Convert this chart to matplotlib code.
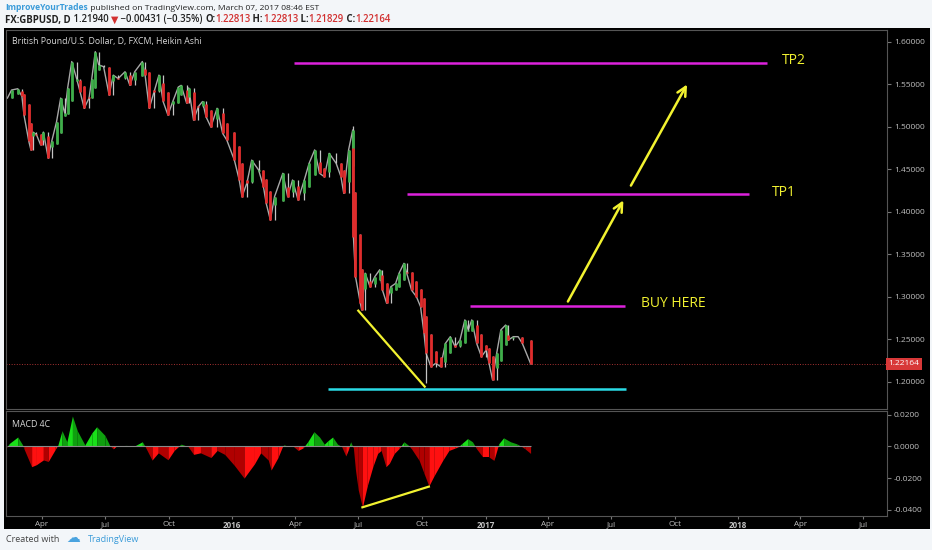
import matplotlib.pyplot as plt
import matplotlib.dates as mdates
import numpy as np
import pandas as pd
from matplotlib.patches import Rectangle

plt.rcParams['font.family'] = ['Open Sans', 'DejaVu Sans']
plt.rcParams['axes.unicode_minus'] = False

# GBPUSD daily, Heikin Ashi - closes
price_dates = [
    '2015-02-10', '2015-02-16', '2015-02-25', '2015-03-03', '2015-03-06', '2015-03-13', '2015-03-16',
    '2015-03-19', '2015-03-24', '2015-03-30', '2015-04-03', '2015-04-10', '2015-04-15', '2015-04-22',
    '2015-04-28', '2015-05-04', '2015-05-08', '2015-05-14', '2015-05-21', '2015-05-26', '2015-06-01',
    '2015-06-08', '2015-06-12', '2015-06-17', '2015-06-22', '2015-06-29', '2015-07-07', '2015-07-13',
    '2015-07-20', '2015-07-30', '2015-08-06', '2015-08-13', '2015-08-24', '2015-08-28', '2015-09-03',
    '2015-09-10', '2015-09-17', '2015-09-23', '2015-09-30', '2015-10-07', '2015-10-15', '2015-10-19',
    '2015-10-27', '2015-10-30', '2015-11-06', '2015-11-13', '2015-11-19', '2015-11-24', '2015-12-01',
    '2015-12-10', '2015-12-18', '2015-12-24', '2016-01-04', '2016-01-11', '2016-01-15', '2016-01-22',
    '2016-01-29', '2016-02-08', '2016-02-15', '2016-02-19', '2016-02-25', '2016-03-02', '2016-03-14',
    '2016-03-21', '2016-03-28', '2016-04-05', '2016-04-14', '2016-04-21', '2016-04-29', '2016-05-06',
    '2016-05-13', '2016-05-20', '2016-05-30', '2016-06-06', '2016-06-10', '2016-06-17', '2016-06-23',
    '2016-06-24', '2016-06-27', '2016-07-04', '2016-07-06', '2016-07-11', '2016-07-18', '2016-07-25',
    '2016-08-01', '2016-08-05', '2016-08-11', '2016-08-17', '2016-08-24', '2016-08-29', '2016-09-05',
    '2016-09-09', '2016-09-16', '2016-09-23', '2016-09-29', '2016-10-04', '2016-10-07', '2016-10-14',
    '2016-10-21', '2016-10-28', '2016-11-04', '2016-11-11', '2016-11-18', '2016-11-25', '2016-12-02',
    '2016-12-07', '2016-12-12', '2016-12-19', '2016-12-26', '2017-01-02', '2017-01-06', '2017-01-11',
    '2017-01-17', '2017-01-23', '2017-01-30', '2017-02-03', '2017-02-10', '2017-02-17', '2017-02-23',
    '2017-03-07']
price_close = [
    1.534, 1.5435, 1.545, 1.536, 1.514, 1.483, 1.473,
    1.494, 1.491, 1.479, 1.494, 1.4635, 1.483, 1.506,
    1.534, 1.516, 1.5455, 1.577, 1.557, 1.5415, 1.522,
    1.534, 1.557, 1.5886, 1.573, 1.571, 1.5376, 1.561,
    1.557, 1.565, 1.549, 1.565, 1.577, 1.561, 1.522,
    1.5415, 1.561, 1.530, 1.514, 1.530, 1.547, 1.549,
    1.528, 1.546, 1.508, 1.524, 1.530, 1.512, 1.500,
    1.522, 1.4925, 1.4847, 1.461, 1.4376, 1.418, 1.4338,
    1.461, 1.4494, 1.4298, 1.410, 1.3906, 1.418, 1.4455,
    1.418, 1.4376, 1.4141, 1.4376, 1.4573, 1.473, 1.4455,
    1.4415, 1.469, 1.4573, 1.4415, 1.422, 1.473, 1.4965,
    1.371, 1.324, 1.2926, 1.2847, 1.328, 1.312, 1.324,
    1.332, 1.308, 1.2926, 1.312, 1.316, 1.328, 1.3396,
    1.328, 1.308, 1.3004, 1.2886, 1.2573, 1.2337, 1.218,
    1.222, 1.218, 1.2455, 1.2533, 1.2415, 1.2494, 1.273,
    1.2612, 1.273, 1.2455, 1.2298, 1.2376, 1.222, 1.2024,
    1.2337, 1.2612, 1.267, 1.2494, 1.2533, 1.2533, 1.2455,
    1.22164]
spike_dates = ['2016-06-23', '2016-10-07']
spike_prices = [1.5015, 1.1985]
last_price = 1.22164

# MACD 4C histogram
macd_dates = [
    '2015-02-09', '2015-02-13', '2015-02-25', '2015-03-04', '2015-03-06', '2015-03-17', '2015-03-24',
    '2015-04-03', '2015-04-10', '2015-04-20', '2015-04-24', '2015-04-30', '2015-05-07', '2015-05-15',
    '2015-05-22', '2015-06-02', '2015-06-12', '2015-06-19', '2015-07-01', '2015-07-08', '2015-07-13',
    '2015-07-17', '2015-07-31', '2015-08-13', '2015-08-24', '2015-08-28', '2015-09-07', '2015-09-16',
    '2015-09-30', '2015-10-09', '2015-10-19', '2015-10-29', '2015-11-06', '2015-11-16', '2015-12-01',
    '2015-12-10', '2015-12-21', '2016-01-04', '2016-01-18', '2016-02-02', '2016-02-11', '2016-02-22',
    '2016-02-26', '2016-03-07', '2016-03-14', '2016-03-16', '2016-03-23', '2016-03-28', '2016-04-05',
    '2016-04-12', '2016-04-19', '2016-04-28', '2016-05-06', '2016-05-13', '2016-05-18', '2016-05-25',
    '2016-06-01', '2016-06-07', '2016-06-13', '2016-06-17', '2016-06-20', '2016-06-24', '2016-06-27',
    '2016-07-01', '2016-07-07', '2016-07-14', '2016-07-22', '2016-07-29', '2016-08-03', '2016-08-10',
    '2016-08-15', '2016-08-22', '2016-08-29', '2016-09-05', '2016-09-12', '2016-09-16', '2016-09-27',
    '2016-10-04', '2016-10-11', '2016-10-18', '2016-10-31', '2016-11-09', '2016-11-18', '2016-11-23',
    '2016-11-28', '2016-12-06', '2016-12-13', '2016-12-19', '2016-12-28', '2017-01-06', '2017-01-13',
    '2017-01-20', '2017-01-27', '2017-02-06', '2017-02-15', '2017-02-22', '2017-02-27', '2017-03-07']
macd_hist = [
    -0.0005, 0.002, 0.006, 0.001, -0.0015, -0.0128, -0.0115,
    -0.0085, -0.0095, -0.002, 0.001, 0.010, 0.003, 0.0193,
    0.010, 0.001, 0.0086, 0.0125, 0.007, 0.0006, -0.0015,
    0.0, 0.0007, 0.0004, 0.003, 0.0, -0.0086, -0.004,
    -0.0084, -0.0025, 0.0015, 0.0, -0.005, -0.004, -0.007,
    -0.0025, -0.005, -0.012, -0.020, -0.011, -0.004, -0.0086,
    -0.0149, -0.007, 0.0005, 0.001, 0.0, 0.0005, -0.0025,
    -0.001, 0.003, 0.0094, 0.006, 0.0015, 0.0036, 0.006,
    0.0015, 0.0, -0.006, -0.0017, 0.003, -0.001, -0.015,
    -0.0275, -0.0385, -0.025, -0.0128, -0.0044, -0.0025, -0.0128,
    -0.0106, -0.0044, -0.0013, 0.003, 0.0006, -0.0015, -0.0088,
    -0.017, -0.025, -0.019, -0.0088, -0.0025, -0.001, 0.0,
    0.002, 0.005, 0.003, -0.0015, -0.0067, -0.0067, -0.0088,
    0.0017, 0.0055, 0.003, 0.0017, 0.0, -0.0015, -0.0044]

# drawn levels / trendlines
tp2_level, tp2_span = 1.5757, ['2016-03-30', '2018-02-12']
tp1_level, tp1_span = 1.4212, ['2016-09-09', '2018-01-16']
buy_level, buy_span = 1.2894, ['2016-12-10', '2017-07-22']
support_level, support_span = 1.1918, ['2016-05-18', '2017-07-23']
trend_dates, trend_prices = ['2016-07-01', '2016-10-05'], [1.2839, 1.1945]
arrow1_dates, arrow1_prices = ['2017-04-28', '2017-07-21'], [1.2918, 1.4165]
arrow2_dates, arrow2_prices = ['2017-07-28', '2017-10-21'], [1.4282, 1.5529]
macd_trend_dates, macd_trend_vals = ['2016-07-07', '2016-10-11'], [-0.0385, -0.0254]

tick_dates = ['2015-04-01', '2015-07-01', '2015-10-01', '2016-01-01', '2016-04-01', '2016-07-01',
              '2016-10-01', '2017-01-01', '2017-04-01', '2017-07-01', '2017-10-01', '2018-01-01',
              '2018-04-01', '2018-07-01']
tick_labels = ['Apr', 'Jul', 'Oct', '2016', 'Apr', 'Jul', 'Oct', '2017', 'Apr', 'Jul', 'Oct', '2018', 'Apr', 'Jul']

d2n = lambda s: mdates.date2num(pd.to_datetime(s))

W, H = 932, 550
fig = plt.figure(figsize=(W / 100, H / 100), dpi=100, facecolor='#f3f6f9')
fig.patches.append(Rectangle((4 / W, 1 - 529 / H), 926 / W, 501 / H, transform=fig.transFigure,
                             facecolor='black', edgecolor='none', zorder=-10))
ax = fig.add_axes([6 / W, 1 - 409 / H, 881 / W, 379 / H], facecolor='black')
ax2 = fig.add_axes([6 / W, 1 - 516 / H, 881 / W, 105 / H], facecolor='black', sharex=ax)

# heikin ashi candles
x = d2n(price_dates)
close = np.array(price_close)
ha_open = np.empty_like(close)
ha_open[0] = close[0]
for i in range(1, len(close)):
    ha_open[i] = (ha_open[i - 1] + close[i - 1]) / 2
prev = np.r_[close[0], close[:-1]]
lo = np.minimum.reduce([ha_open, close, prev])
hi = np.maximum.reduce([ha_open, close, prev])
for d, p in zip(spike_dates, spike_prices):
    k = price_dates.index(d)
    lo[k] = min(lo[k], p)
    hi[k] = max(hi[k], p)
cols = np.where(close >= ha_open, '#3fae4a', '#e02c2c')
ax.plot(x, close, color='#a8a8a8', lw=1.0, zorder=2)
ax.vlines(x, lo, hi, color='#c4c4c4', lw=0.9, zorder=2)
ax.vlines(x, ha_open, close, color=cols, lw=2.0, zorder=3)

ax.axhline(last_price, color='#a83232', ls=':', lw=0.7, zorder=1)
ax.text(1.002, last_price, '%.5f' % last_price, transform=ax.get_yaxis_transform(), ha='left', va='center',
        fontsize=6, color='white', bbox=dict(boxstyle='square,pad=0.3', fc='#d83838', ec='none'), clip_on=False)

magenta, yellow, cyan = '#dd22dd', '#f2f230', '#2adbe6'
for lvl, span in [(tp2_level, tp2_span), (tp1_level, tp1_span), (buy_level, buy_span)]:
    ax.hlines(lvl, d2n(span[0]), d2n(span[1]), color=magenta, lw=1.8, zorder=4)
ax.hlines(support_level, d2n(support_span[0]), d2n(support_span[1]), color=cyan, lw=1.8, zorder=4)
ax.plot(d2n(trend_dates), trend_prices, color=yellow, lw=1.6, zorder=4)
for ds, ps in [(arrow1_dates, arrow1_prices), (arrow2_dates, arrow2_prices)]:
    xs = d2n(ds)
    ax.annotate('', xy=(xs[1], ps[1]), xytext=(xs[0], ps[0]),
                arrowprops=dict(arrowstyle='->', color=yellow, lw=1.8, mutation_scale=16), zorder=5)
ax.text(d2n('2018-03-05'), 1.5788, 'TP2', color=yellow, fontsize=10, va='center', ha='left')
ax.text(d2n('2018-02-19'), 1.4235, 'TP1', color=yellow, fontsize=10, va='center', ha='left')
ax.text(d2n('2017-08-13'), 1.2929, 'BUY HERE', color=yellow, fontsize=10, va='center', ha='left')
ax.text(6 / 881, 0.97, 'British Pound/U.S. Dollar, D, FXCM, Heikin Ashi', transform=ax.transAxes,
        color='#d8d8d8', fontsize=6.3, va='center', ha='left')

ax.set_ylim(1.1682, 1.6141)
ax.set_xlim(d2n('2015-02-08'), d2n('2018-08-04'))
ax.yaxis.tick_right()
ax.set_yticks(np.arange(1.20, 1.6001, 0.05))
ax.set_yticklabels(['%.5f' % v for v in np.arange(1.20, 1.6001, 0.05)])
ax.tick_params(axis='y', labelsize=6, labelcolor='#c0c0c0', color='#777777', length=3, pad=2)
ax.tick_params(axis='x', bottom=False, labelbottom=False)

# macd panel
mx = d2n(macd_dates)
mv = np.array(macd_hist)
for i in range(len(mv) - 1):
    x0, x1, v0, v1 = mx[i], mx[i + 1], mv[i], mv[i + 1]
    rising = v1 >= v0
    pieces = [(x0, x1, v0, v1)]
    if v0 * v1 < 0:
        xc = x0 + (x1 - x0) * v0 / (v0 - v1)
        pieces = [(x0, xc, v0, 0.0), (xc, x1, 0.0, v1)]
    for a, b, va, vb in pieces:
        pos = (va + vb) >= 0
        if pos:
            c = '#19e019' if rising else '#0fa00f'
        else:
            c = '#ff1010' if rising else '#b00000'
        ax2.fill_between([a, b], [va, vb], 0, color=c, lw=0, zorder=2)
ax2.hlines(0, mx[0], mx[-1], color='#8a8a8a', lw=0.8, zorder=3)
ax2.plot(d2n(macd_trend_dates), macd_trend_vals, color=yellow, lw=1.6, zorder=4)
ax2.text(6 / 881, 0.87, 'MACD 4C', transform=ax2.transAxes, color='#d8d8d8', fontsize=6.3, va='center')
ax2.set_ylim(-0.0440, 0.02247)
ax2.yaxis.tick_right()
ax2.set_yticks([0.02, 0.0, -0.02, -0.04])
ax2.set_yticklabels(['0.0200', '0.0000', '-0.0200', '-0.0400'])
ax2.tick_params(axis='y', labelsize=6, labelcolor='#c0c0c0', color='#777777', length=3, pad=2)
ax2.set_xticks(d2n(tick_dates))
ax2.set_xticklabels(tick_labels)
for t in ax2.get_xticklabels():
    if t.get_text().isdigit():
        t.set_fontweight('bold')
ax2.tick_params(axis='x', labelsize=5.8, labelcolor='#c0c0c0', color='#777777', length=2, pad=1.5)

for a in (ax, ax2):
    for s in a.spines.values():
        s.set_color('#555555')
        s.set_linewidth(0.8)

# header and footer
rend = fig.canvas.get_renderer()


def chain(x0, y0, parts, size=6.5):
    xx = x0
    for s, c, w in parts:
        t = fig.text(xx, y0, s, color=c, fontsize=size, fontweight=w, va='center', ha='left')
        xx = fig.transFigure.inverted().transform(t.get_window_extent(renderer=rend))[1][0]


dark, red = '#222222', '#d23030'
chain(5 / W, 1 - 8 / H, [('ImproveYourTrades', '#3a9bd9', 'bold'),
                         (' published on TradingView.com, March 07, 2017 08:46 EST', dark, 'normal')], size=6.1)
chain(5 / W, 1 - 20 / H, [('FX:GBPUSD, D', dark, 'bold'), (' 1.21940 ', dark, 'semibold'), ('▼', red, 'normal'),
                          (' \u22120.00431 (\u22120.35%) ', dark, 'semibold'), ('O:', dark, 'bold'),
                          ('1.22813', red, 'semibold'), (' H:', dark, 'bold'), ('1.22813', red, 'semibold'),
                          (' L:', dark, 'bold'), ('1.21829', red, 'semibold'), (' C:', dark, 'bold'),
                          ('1.22164', red, 'semibold')], size=6.9)
fig.text(6 / W, 1 - 539 / H, 'Created with', color='#444444', fontsize=6.5, va='center')
fig.text(66 / W, 1 - 538 / H, '\u2601', color='#4aa3df', fontsize=10, va='center', family=['DejaVu Sans'])
fig.text(88 / W, 1 - 539 / H, 'TradingView', color='#3a9bd9', fontsize=6.5, va='center')

fig.savefig('out.png', dpi=100, facecolor=fig.get_facecolor())
